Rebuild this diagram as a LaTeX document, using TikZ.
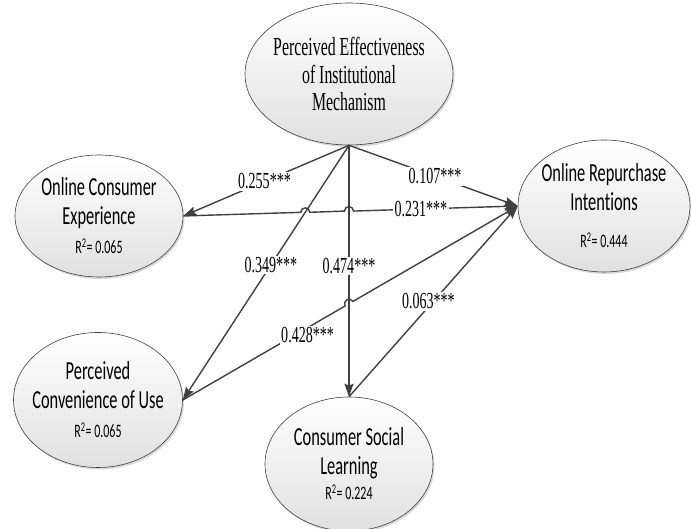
\documentclass[tikz,border=0pt]{standalone}
\usepackage{fontspec}
\setmainfont[FakeStretch=0.61]{Liberation Serif}
\newfontfamily\calibfont[FakeStretch=0.63,Ligatures={NoCommon}]{Carlito}
\usetikzlibrary{shapes.geometric,shadows,arrows.meta,calc}
\newcommand{\rsq}[1]{{\fontsize{19}{22}\selectfont R\textsuperscript{2}= #1}}

\begin{document}
\begin{tikzpicture}[x=1pt,y=1pt,
        construct/.style={ellipse,draw=black!75,line width=0.6pt,top color=white,bottom color=black!12,
                drop shadow={shadow xshift=1.5pt,shadow yshift=-2pt,opacity=0.3},inner sep=-10pt,align=center,
                font=\calibfont\fontsize{26}{28.5}\selectfont},
        link/.style={draw=black!75,line width=1.4pt,-{Stealth[length=13pt,width=9pt,inset=2pt]}},
        coef/.style={fill=white,inner sep=1.5pt,font=\fontsize{23}{25}\selectfont}]
                \useasboundingbox (0,0) rectangle (691,529);

                \node[construct,minimum width=208pt,minimum height=142pt,font=\fontsize{26}{27.5}\selectfont] (pe) at (349,455)
                        {Perceived Effectiveness\\of Institutional\\Mechanism}; %PEIM
                \node[construct,minimum width=168pt,minimum height=122pt] (oce) at (99,313)
                        {Online Consumer\\Experience\\[1pt]\rsq{0.065}}; %OCE
                \node[construct,minimum width=172pt,minimum height=132pt] (ori) at (604,323)
                        {Online Repurchase\\Intentions\\[9pt]\rsq{0.444}}; %ORI
                \node[construct,minimum width=169pt,minimum height=135pt] (pcu) at (98,129)
                        {Perceived\\Convenience of Use\\[1pt]\rsq{0.065}}; %PCU
                \node[construct,minimum width=168pt,minimum height=134pt] (csl) at (349,65)
                        {Consumer Social\\Learning\\[-3pt]\rsq{0.224}}; %CSL

                % crossings for the line jumps
                \coordinate (j1) at (intersection of oce.east--ori.west and pe.south--pcu.east);
                \coordinate (j2) at (intersection of oce.east--ori.west and pe.south--csl.north);
                \coordinate (j3) at (intersection of pcu.east--ori.west and pe.south--csl.north);

                \draw[link] (pe.south) -- node[coef,pos=.51] {0.255***} (oce.east);
                \draw[link] (pe.south) -- node[coef,pos=.51] {0.107***} (ori.west);
                \draw[link] (pe.south) -- node[coef,pos=.47] {0.349***} (pcu.east);
                \draw[link] (pe.south) -- node[coef,pos=.48] {0.474***} (csl.north);

                \draw[link] (oce.east) -- ($(j1)+(-4.5,0)$) arc[start angle=180,end angle=0,radius=4.5]
                        -- ($(j2)+(-4.5,0)$) arc[start angle=180,end angle=0,radius=4.5]
                        -- node[coef,pos=.41] {0.231***} (ori.west);
                \draw[link] (pcu.east) -- node[coef,pos=.75,xshift=3pt,yshift=-6pt] {0.428***} ($(j3)+(210:4.5)$)
                        arc[start angle=210,end angle=30,radius=4.5] -- (ori.west);
                \draw[link] (csl.north) -- node[coef,pos=.5,xshift=-5pt] {0.063***} (ori.west);
            \end{tikzpicture}
\end{document}
